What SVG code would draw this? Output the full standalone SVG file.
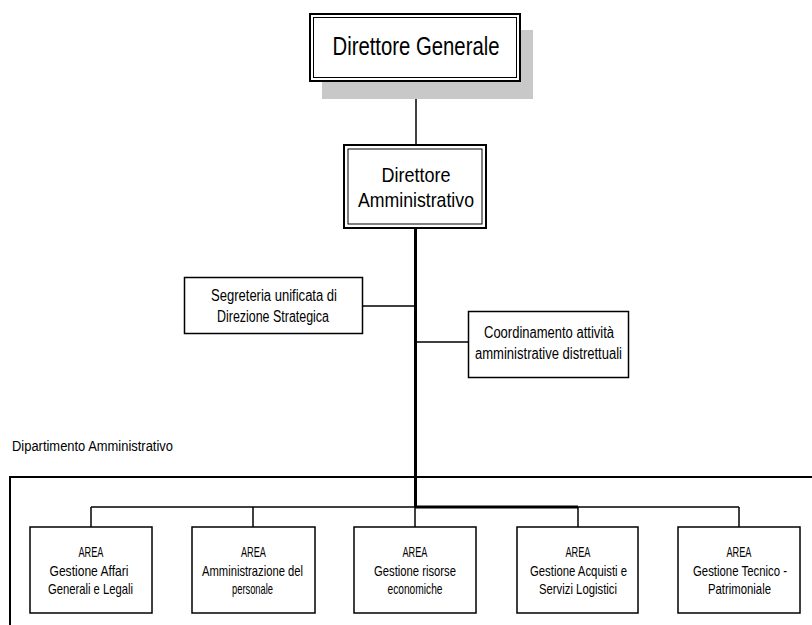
<svg xmlns="http://www.w3.org/2000/svg" width="812" height="625" viewBox="0 0 812 625">
<style>
text{font-family:"Liberation Sans Narrow","Liberation Sans",Arial,sans-serif;fill:#000;text-anchor:middle}
.box{fill:#fff;stroke:#000;stroke-width:1.5}
.outer{fill:#fff;stroke:#000;stroke-width:2}
.inner{fill:none;stroke:#000;stroke-width:1}
.thin{stroke:#000;stroke-width:1.5;fill:none}
.thick{stroke:#000;stroke-width:3;fill:none}
.a{font-size:14.5px}
.s{font-size:16px}
</style>
<g id="connectors">
<line class="thin" x1="416" y1="82" x2="416" y2="144"/>
<line class="thick" x1="415.5" y1="229" x2="415.5" y2="507"/>
<line class="thin" x1="363" y1="306" x2="415" y2="306"/>
<line class="thin" x1="415" y1="342" x2="468" y2="342"/>
<line class="thin" x1="91" y1="507" x2="739" y2="507"/>
<line class="thick" x1="415" y1="507" x2="578" y2="507"/>
<line class="thin" x1="91" y1="507" x2="91" y2="527"/>
<line class="thin" x1="253" y1="507" x2="253" y2="527"/>
<line class="thin" x1="415" y1="507" x2="415" y2="527"/>
<line class="thin" x1="578" y1="507" x2="578" y2="527"/>
<line class="thin" x1="739" y1="507" x2="739" y2="527"/>
</g>
<g id="dipartimento">
<path d="M10,630 V477 H815" fill="none" stroke="#000" stroke-width="2"/>
<text x="12" y="451" style="text-anchor:start;font-size:15.5px" textLength="161" lengthAdjust="spacingAndGlyphs">Dipartimento Amministrativo</text>
</g>
<g id="direttore-generale">
<rect x="322" y="30" width="211" height="69" fill="#c8c8c8"/>
<rect class="outer" x="310" y="14" width="210" height="67"/>
<rect class="inner" x="313.5" y="17.5" width="203" height="60"/>
<text x="416" y="55" style="font-size:25px" textLength="167" lengthAdjust="spacingAndGlyphs">Direttore Generale</text>
</g>
<g id="direttore-amministrativo">
<rect class="outer" x="344" y="145" width="142" height="83"/>
<rect class="inner" x="348" y="149" width="134" height="75"/>
<text x="416" y="182" style="font-size:21px" textLength="69" lengthAdjust="spacingAndGlyphs">Direttore</text>
<text x="416" y="207" style="font-size:21px" textLength="116" lengthAdjust="spacingAndGlyphs">Amministrativo</text>
</g>
<g id="segreteria">
<rect class="box" x="184.5" y="277.5" width="178" height="56"/>
<text class="s" x="274" y="301" textLength="126" lengthAdjust="spacingAndGlyphs">Segreteria unificata di</text>
<text class="s" x="273" y="322" textLength="112" lengthAdjust="spacingAndGlyphs">Direzione Strategica</text>
</g>
<g id="coordinamento">
<rect class="box" x="468.5" y="311.5" width="160" height="66"/>
<text class="s" x="549" y="338" textLength="130" lengthAdjust="spacingAndGlyphs">Coordinamento attività</text>
<text class="s" x="548.5" y="359" textLength="147" lengthAdjust="spacingAndGlyphs">amministrative distrettuali</text>
</g>
<g id="area-affari">
<rect class="box" x="30" y="527" width="122" height="86"/>
<text class="a" x="91" y="557" textLength="25" lengthAdjust="spacingAndGlyphs">AREA</text>
<text class="a" x="89" y="575.5" textLength="79" lengthAdjust="spacingAndGlyphs">Gestione Affari</text>
<text class="a" x="90.5" y="594" textLength="85" lengthAdjust="spacingAndGlyphs">Generali e Legali</text>
</g>
<g id="area-personale">
<rect class="box" x="192" y="527" width="123" height="86"/>
<text class="a" x="253.5" y="557" textLength="25" lengthAdjust="spacingAndGlyphs">AREA</text>
<text class="a" x="252.5" y="575.5" textLength="101" lengthAdjust="spacingAndGlyphs">Amministrazione del</text>
<text class="a" x="252.5" y="594" textLength="41" lengthAdjust="spacingAndGlyphs">personale</text>
</g>
<g id="area-risorse">
<rect class="box" x="354" y="527" width="122" height="86"/>
<text class="a" x="415" y="557" textLength="25" lengthAdjust="spacingAndGlyphs">AREA</text>
<text class="a" x="415" y="575.5" textLength="82" lengthAdjust="spacingAndGlyphs">Gestione risorse</text>
<text class="a" x="415" y="594" textLength="55" lengthAdjust="spacingAndGlyphs">economiche</text>
</g>
<g id="area-acquisti">
<rect class="box" x="517" y="527" width="121" height="86"/>
<text class="a" x="578" y="557" textLength="25" lengthAdjust="spacingAndGlyphs">AREA</text>
<text class="a" x="578.5" y="575.5" textLength="97" lengthAdjust="spacingAndGlyphs">Gestione Acquisti e</text>
<text class="a" x="578" y="594" textLength="78" lengthAdjust="spacingAndGlyphs">Servizi Logistici</text>
</g>
<g id="area-tecnico">
<rect class="box" x="678" y="527" width="122" height="86"/>
<text class="a" x="739" y="557" textLength="25" lengthAdjust="spacingAndGlyphs">AREA</text>
<text class="a" x="740" y="575.5" textLength="94" lengthAdjust="spacingAndGlyphs">Gestione Tecnico -</text>
<text class="a" x="739.5" y="594" textLength="63" lengthAdjust="spacingAndGlyphs">Patrimoniale</text>
</g>
</svg>
